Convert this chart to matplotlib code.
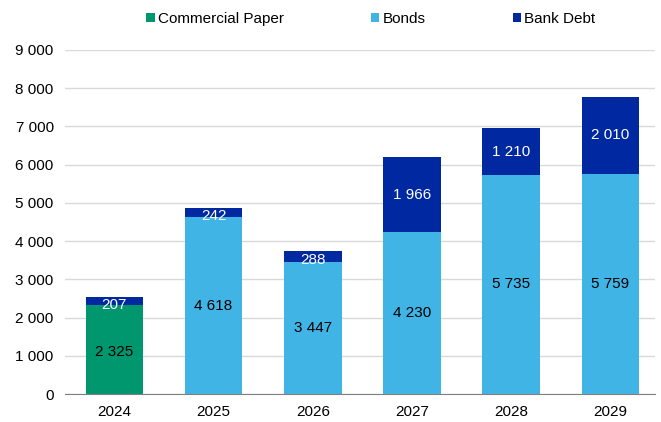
import numpy as np
import matplotlib.pyplot as plt

plt.rcParams['font.family'] = ['Liberation Sans', 'DejaVu Sans']

years = ["2024", "2025", "2026", "2027", "2028", "2029"]
commercial_paper = [2325, 0, 0, 0, 0, 0]
bonds = [0, 4618, 3447, 4230, 5735, 5759]
bank_debt = [207, 242, 288, 1966, 1210, 2010]


def fmt(v):
    return f"{v:,}".replace(",", " ")


fig = plt.figure(figsize=(6.61, 4.22), dpi=100)
ax = fig.add_axes([0.098, 0.066, 0.893, 0.816])

x = np.arange(len(years))
w = 0.58
cp = np.array(commercial_paper)
bd = np.array(bonds)
bk = np.array(bank_debt)

b1 = ax.bar(x, cp, w, color="#00976E", linewidth=0, label="Commercial Paper", zorder=3)
b2 = ax.bar(x, bd, w, bottom=cp, color="#41B4E6", linewidth=0, label="Bonds", zorder=3)
b3 = ax.bar(x, bk, w, bottom=cp + bd, color="#0028A0", linewidth=0, label="Bank Debt", zorder=3)

for i in range(len(years)):
    if cp[i]:
        ax.annotate(fmt(cp[i]), (x[i], cp[i] / 2), xytext=(0, -2), textcoords="offset points",
                    ha="center", va="center", fontsize=11, color="black", zorder=4)
    if bd[i]:
        ax.text(x[i], cp[i] + bd[i] / 2, fmt(bd[i]), ha="center", va="center", fontsize=11, color="black", zorder=4)
    # small segments: label sits a little low, as in the source
    dy = -2.5 if bk[i] < 400 else 0
    ax.annotate(fmt(bk[i]), (x[i], cp[i] + bd[i] + bk[i] / 2), xytext=(0, dy), textcoords="offset points",
                ha="center", va="center", fontsize=11, color="white", zorder=4)

ax.set_xlim(-0.5, 5.45)
ax.set_ylim(0, 9000)
ax.set_yticks(range(0, 9001, 1000))
ax.set_yticklabels([fmt(v) for v in range(0, 9001, 1000)], fontsize=11)
ax.set_xticks(x)
ax.set_xticklabels(years, fontsize=11)
ax.tick_params(length=0, pad=8)
ax.yaxis.grid(True, color="#D9D9D9", linewidth=1, zorder=0)
for s in ["top", "right", "left"]:
    ax.spines[s].set_visible(False)
ax.spines["bottom"].set_color("#808080")
ax.spines["bottom"].set_zorder(5)

fig.legend(handles=[b1, b2, b3], loc="center", bbox_to_anchor=(0.561, 0.955), ncol=3, frameon=False,
           fontsize=11, handlelength=0.55, handleheight=0.55, handletextpad=0.2, columnspacing=5.7)

fig.savefig("out.png", dpi=100)
